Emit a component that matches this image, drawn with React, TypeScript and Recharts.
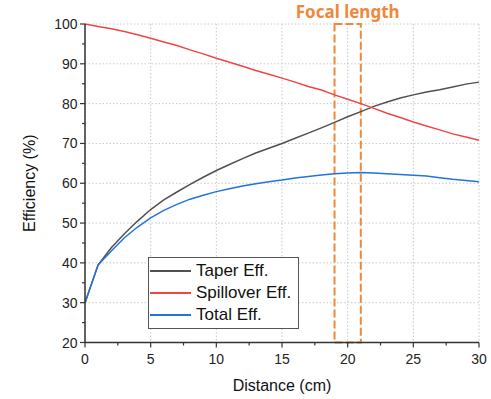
import React from 'react';
import { LineChart, Line, XAxis, YAxis, CartesianGrid, ReferenceArea, Legend } from 'recharts';

const distance = [0, 1, 2, 3, 4, 5, 6, 7, 8, 9, 10, 11, 12, 13, 14, 15, 16, 17, 18, 19, 20, 21, 22, 23, 24, 25, 26, 27, 28, 29, 30];
const taperEff = [30, 39.5, 43.8, 47.3, 50.5, 53.4, 55.8, 57.8, 59.7, 61.5, 63.2, 64.7, 66.2, 67.6, 68.8, 70.0, 71.3, 72.6, 73.9, 75.3, 76.7, 78.0, 79.3, 80.4, 81.4, 82.2, 82.9, 83.5, 84.2, 84.9, 85.4];
const spilloverEff = [100, 99.4, 98.8, 98.1, 97.3, 96.4, 95.5, 94.6, 93.5, 92.5, 91.4, 90.4, 89.4, 88.3, 87.4, 86.4, 85.4, 84.3, 83.4, 82.2, 81.1, 80.0, 78.8, 77.6, 76.5, 75.4, 74.4, 73.4, 72.4, 71.6, 70.8];
const totalEff = [30, 39.5, 43.0, 46.3, 49.0, 51.3, 53.2, 54.7, 56.0, 57.0, 57.9, 58.6, 59.3, 59.9, 60.4, 60.8, 61.3, 61.7, 62.1, 62.4, 62.6, 62.7, 62.6, 62.4, 62.2, 62.0, 61.8, 61.4, 61.0, 60.7, 60.4];

const seriesNames = ['Taper Eff.', 'Spillover Eff.', 'Total Eff.'];
const xMajor = [0, 5, 10, 15, 20, 25, 30];
const xAll = [0, 2.5, 5, 7.5, 10, 12.5, 15, 17.5, 20, 22.5, 25, 27.5, 30];
const yMajor = [20, 30, 40, 50, 60, 70, 80, 90, 100];
const yAll = [20, 25, 30, 35, 40, 45, 50, 55, 60, 65, 70, 75, 80, 85, 90, 95, 100];
const focalRange = [19, 21];

const data = distance.map((d, i) => ({
  d,
  taper: taperEff[i],
  spill: spilloverEff[i],
  total: totalEff[i],
}));

const FONT = '"Liberation Sans", Arial, sans-serif';
const AXIS = '#333';
const ORANGE = '#F0883A';

const isMajorX = (v: number) => v % 5 === 0;
const isMajorY = (v: number) => v % 10 === 0;

const BottomTick = (props: any) => {
  const { x, y, payload } = props;
  const v = payload.value;
  const major = isMajorX(v);
  return (
    <g>
      <line x1={x} y1={y} x2={x} y2={y + (major ? 5 : 3)} stroke={AXIS} strokeWidth={1.2} />
      {major && (
        <text x={x} y={y + 21} textAnchor="middle" fontSize={14} fontFamily={FONT} fill="#222">
          {v}
        </text>
      )}
    </g>
  );
};

const LeftTick = (props: any) => {
  const { x, y, payload } = props;
  const v = payload.value;
  const major = isMajorY(v);
  return (
    <g>
      <line x1={x - (major ? 5 : 3)} y1={y} x2={x} y2={y} stroke={AXIS} strokeWidth={1.2} />
      {major && (
        <text x={x - 7.5} y={y + 5} textAnchor="end" fontSize={14} fontFamily={FONT} fill="#222">
          {v}
        </text>
      )}
    </g>
  );
};

const TopTick = (props: any) => {
  const { x, y, payload } = props;
  const major = isMajorX(payload.value);
  return <line x1={x} y1={y} x2={x} y2={y + (major ? 5 : 3)} stroke={AXIS} strokeWidth={1.2} />;
};

const RightTick = (props: any) => {
  const { x, y, payload } = props;
  const major = isMajorY(payload.value);
  return <line x1={x} y1={y} x2={x - (major ? 5 : 3)} y2={y} stroke={AXIS} strokeWidth={1.2} />;
};

const LegendBox = (props: any) => {
  const items = [...(props.payload || [])].sort(
    (a: any, b: any) => seriesNames.indexOf(a.value) - seriesNames.indexOf(b.value)
  );
  return (
    <div
      style={{
        border: '1px solid #555',
        background: '#fff',
        width: 149,
        paddingTop: 2,
        paddingBottom: 2,
        boxSizing: 'content-box',
      }}
    >
      {items.map((p: any) => (
        <div key={p.value} style={{ display: 'flex', alignItems: 'center', height: 22 }}>
          <div style={{ marginLeft: 1, width: 41, height: 1.5, background: p.color }} />
          <span style={{ marginLeft: 5, fontFamily: FONT, fontSize: 17, color: '#111', lineHeight: '22px' }}>
            {p.value}
          </span>
        </div>
      ))}
    </div>
  );
};

export default function App() {
  return (
    <div style={{ position: 'absolute', left: 0, top: 0, width: 491, height: 399, background: '#fff' }}>
      <LineChart
        width={491}
        height={399}
        data={data}
        margin={{ top: 24, right: 12, left: 40, bottom: 8.5 }}
        style={{ overflow: 'visible' }}
      >
        <CartesianGrid
          stroke="#c8c8c8"
          strokeDasharray="1.5 2"
          horizontalValues={yMajor}
          verticalValues={xMajor}
        />
        <XAxis
          dataKey="d"
          type="number"
          domain={[0, 30]}
          ticks={xAll}
          interval={0}
          tickSize={0}
          tickMargin={0}
          tick={<BottomTick />}
          height={48}
          axisLine={{ stroke: AXIS, strokeWidth: 1.5 }}
          label={{ value: 'Distance (cm)', position: 'insideBottom', offset: 0, fontSize: 16, fontFamily: FONT, fill: '#111' }}
        />
        <XAxis
          xAxisId="top"
          dataKey="d"
          type="number"
          orientation="top"
          mirror
          domain={[0, 30]}
          ticks={xAll}
          interval={0}
          tickSize={0}
          tickMargin={0}
          tick={<TopTick />}
          height={0}
          axisLine={{ stroke: AXIS, strokeWidth: 1.5 }}
        />
        <YAxis
          type="number"
          domain={[20, 100]}
          ticks={yAll}
          interval={0}
          tickSize={0}
          tickMargin={0}
          tick={<LeftTick />}
          width={45}
          axisLine={{ stroke: AXIS, strokeWidth: 1.5 }}
          label={{
            value: 'Efficiency (%)',
            angle: -90,
            position: 'insideLeft',
            offset: -11,
            fontSize: 16,
            fontFamily: FONT,
            fill: '#111',
            style: { textAnchor: 'middle' },
          }}
        />
        <YAxis
          yAxisId="right"
          type="number"
          orientation="right"
          mirror
          domain={[20, 100]}
          ticks={yAll}
          interval={0}
          tickSize={0}
          tickMargin={0}
          tick={<RightTick />}
          width={0}
          axisLine={{ stroke: AXIS, strokeWidth: 1.5 }}
        />
        <Line dataKey="taper" name={seriesNames[0]} stroke="#505050" strokeWidth={1.5} dot={false} isAnimationActive={false} />
        <Line dataKey="spill" name={seriesNames[1]} stroke="#F04545" strokeWidth={1.5} dot={false} isAnimationActive={false} />
        <Line dataKey="total" name={seriesNames[2]} stroke="#2272E0" strokeWidth={1.5} dot={false} isAnimationActive={false} />
        <ReferenceArea
          x1={focalRange[0]}
          x2={focalRange[1]}
          y1={20}
          y2={100}
          fill="none"
          fillOpacity={0}
          stroke={ORANGE}
          strokeWidth={2}
          strokeDasharray="8 3"
          ifOverflow="visible"
          label={{
            value: 'Focal length',
            position: 'top',
            offset: 6,
            fill: ORANGE,
            fontSize: 17,
            fontWeight: 'bold',
            fontFamily: '"Noto Sans", "Open Sans", sans-serif',
          }}
        />
        <Legend
          layout="horizontal"
          verticalAlign="middle"
          align="center"
          content={<LegendBox />}
          wrapperStyle={{ position: 'absolute', left: 148, top: 257, width: 151 }}
        />
      </LineChart>
    </div>
  );
}
